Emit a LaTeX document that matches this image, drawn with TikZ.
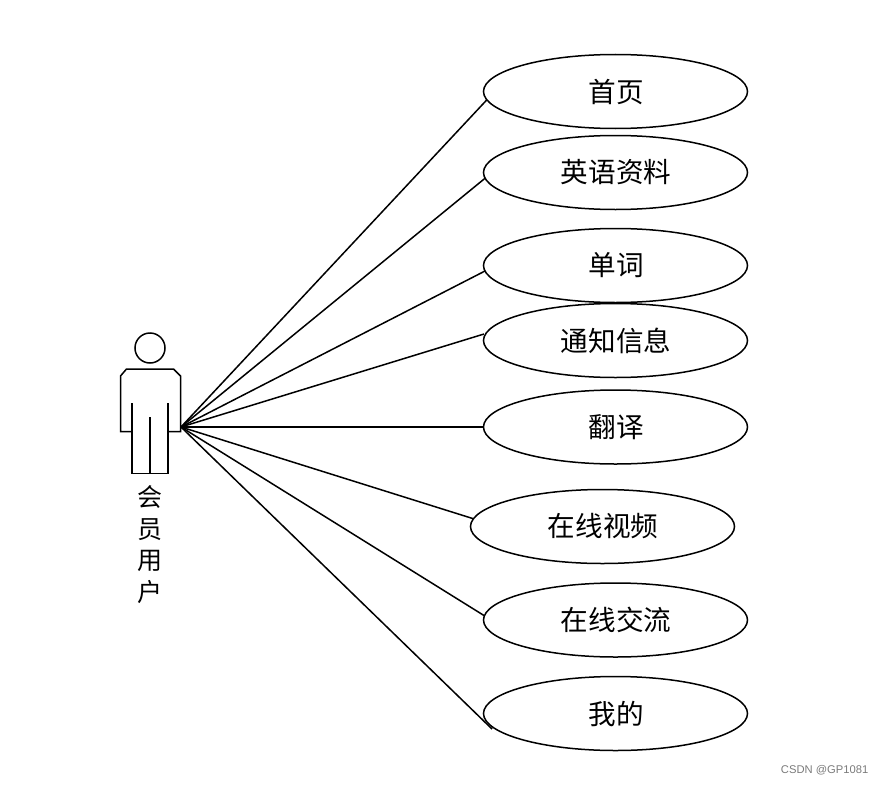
\documentclass[tikz,border=0pt]{standalone}
\usepackage{fontspec}
\setmainfont{Liberation Sans}
\newfontfamily\cjk{Noto Sans CJK SC}
\usetikzlibrary{shapes.geometric}
\tikzset{
  x=1pt,y=-1pt,
  usecase/.style={draw=black,line width=1.5pt,ellipse,minimum width=264pt,minimum height=74pt,inner sep=0pt,font=\cjk\fontsize{27.6}{30}\selectfont},
  link/.style={draw=black,line width=1.5pt},
  actorline/.style={draw=black,line width=1.5pt,line join=miter},
  actorlabel/.style={inner sep=0pt,align=center,font=\cjk\fontsize{25}{31.6}\selectfont},
  mark text/.style={inner sep=0pt,text=black!52,font=\fontsize{11.2}{13}\selectfont}
}
\begin{document}
\begin{tikzpicture}
\useasboundingbox (0,0) rectangle (883,784);
% actor
\node[draw=black,line width=1.5pt,circle,minimum size=30pt,inner sep=0pt] (head) at (150,348) {};
\draw[actorline] (132,431.5) -- (120.5,431.5) -- (120.5,376) -- (126.5,369) -- (173.5,369) -- (180.5,376) -- (180.5,431.5) -- (168,431.5);
\draw[actorline] (132,403) -- (132,473.5) -- (168,473.5) -- (168,403);
\draw[actorline] (150,417) -- (150,473.5);
\coordinate (hub) at (181,427);
\node[actorlabel] (lab) at (150,544.5) {会\\员\\用\\户};
% use cases
\node[usecase] (e1) at (615.5,91.5) {\hspace{1pt}首页};
\node[usecase] (e2) at (615.5,172.5) {\hspace{1pt}英语资料};
\node[usecase] (e3) at (615.5,265.5) {\hspace{1pt}单词};
\node[usecase] (e4) at (615.5,340.5) {\hspace{1pt}通知信息};
\node[usecase] (e5) at (615.5,427) {\hspace{1pt}翻译};
\node[usecase] (e6) at (602.5,526.5) {\hspace{1pt}在线视频};
\node[usecase] (e7) at (615.5,620) {\hspace{1pt}在线交流};
\node[usecase] (e8) at (615.5,713.5) {\hspace{1pt}我的};
% connectors
\draw[link] (hub) -- ([shift={(-128.8,8.5)}]e1.center);
\draw[link] (hub) -- ([shift={(-130.5,5.8)}]e2.center);
\draw[link] (hub) -- ([shift={(-130.5,5.5)}]e3.center);
\draw[link] (hub) -- ([shift={(-131.5,-6.5)}]e4.center);
\draw[link] (hub) -- (e5.west);
\draw[link] (hub) -- ([shift={(-129.2,-7.8)}]e6.center);
\draw[link] (hub) -- ([shift={(-131.2,-4.3)}]e7.center);
\draw[link] (hub) -- ([shift={(-123.5,15.5)}]e8.center);
\node[mark text,anchor=east] (wm) at (868.5,770) {CSDN @GP1081};
\end{tikzpicture}
\end{document}
